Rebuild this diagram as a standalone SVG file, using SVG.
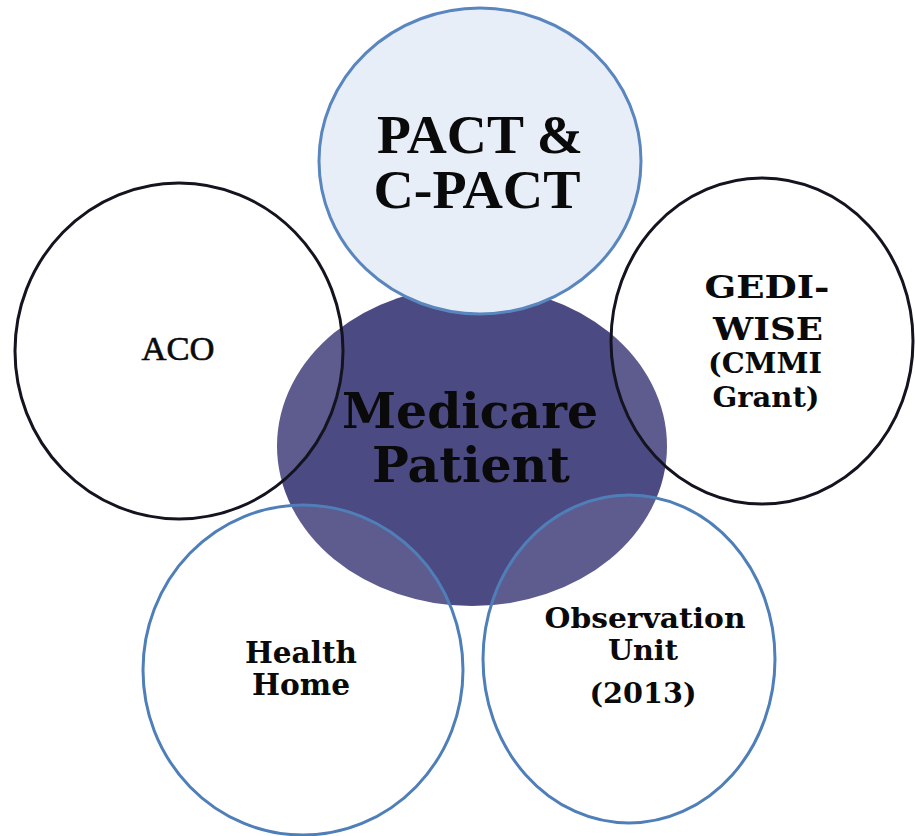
<svg xmlns="http://www.w3.org/2000/svg" width="915" height="836" viewBox="0 0 915 836">
<style>
.ring{fill:#ffffff;fill-opacity:0.1;stroke-width:3}
.blk{stroke:#141420}
.blu{stroke:#4f7fb9}
.t{font-family:"DejaVu Serif","Liberation Serif",serif;font-weight:bold;fill:#0a0a0a;text-anchor:middle}
.tt{font-family:"Liberation Serif","Times New Roman",serif;font-weight:bold;fill:#0a0a0a;text-anchor:middle}
</style>
<rect width="915" height="836" fill="#ffffff"/>
<g id="center">
<ellipse cx="472" cy="446" rx="195" ry="160" fill="#4c4a82"/>
<text class="t" x="470" y="428" font-size="48" textLength="256" lengthAdjust="spacingAndGlyphs">Medicare</text>
<text class="t" x="471" y="482" font-size="48" textLength="198" lengthAdjust="spacingAndGlyphs">Patient</text>
</g>
<g id="aco">
<ellipse class="ring blk" cx="179" cy="351" rx="164" ry="168"/>
<text x="178" y="360" font-family="Liberation Serif, Times New Roman, serif" font-size="33" fill="#0a0a0a" stroke="#0a0a0a" stroke-width="0.6" text-anchor="middle" textLength="73" lengthAdjust="spacingAndGlyphs">ACO</text>
</g>
<g id="gedi">
<ellipse class="ring blk" cx="762" cy="341" rx="151" ry="163"/>
<text class="t" x="767" y="298" font-size="31" textLength="125" lengthAdjust="spacingAndGlyphs">GEDI-</text>
<text class="t" x="768" y="340" font-size="31" textLength="110" lengthAdjust="spacingAndGlyphs">WISE</text>
<text class="t" x="765" y="373" font-size="27" textLength="114" lengthAdjust="spacingAndGlyphs">(CMMI</text>
<text class="t" x="766" y="407" font-size="27" textLength="107" lengthAdjust="spacingAndGlyphs">Grant)</text>
</g>
<g id="health">
<ellipse class="ring blu" cx="303" cy="670" rx="160" ry="165"/>
<text class="t" x="301" y="663" font-size="29" textLength="112" lengthAdjust="spacingAndGlyphs">Health</text>
<text class="t" x="301" y="695" font-size="29" textLength="98" lengthAdjust="spacingAndGlyphs">Home</text>
</g>
<g id="observation">
<ellipse class="ring blu" cx="629" cy="659" rx="146" ry="164"/>
<text class="t" x="645" y="628" font-size="27" textLength="201" lengthAdjust="spacingAndGlyphs">Observation</text>
<text class="t" x="643" y="660" font-size="27" textLength="70" lengthAdjust="spacingAndGlyphs">Unit</text>
<text class="t" x="643" y="703" font-size="27" textLength="107" lengthAdjust="spacingAndGlyphs">(2013)</text>
</g>
<g id="pact">
<ellipse cx="480" cy="161" rx="161" ry="153" fill="#e8eef7" stroke="#5a86c0" stroke-width="3"/>
<text class="tt" x="480" y="153" font-size="54" textLength="206" lengthAdjust="spacingAndGlyphs">PACT &amp;</text>
<text class="tt" x="477" y="208" font-size="54" textLength="207" lengthAdjust="spacingAndGlyphs">C-PACT</text>
</g>
<g id="connectors"/>
</svg>
